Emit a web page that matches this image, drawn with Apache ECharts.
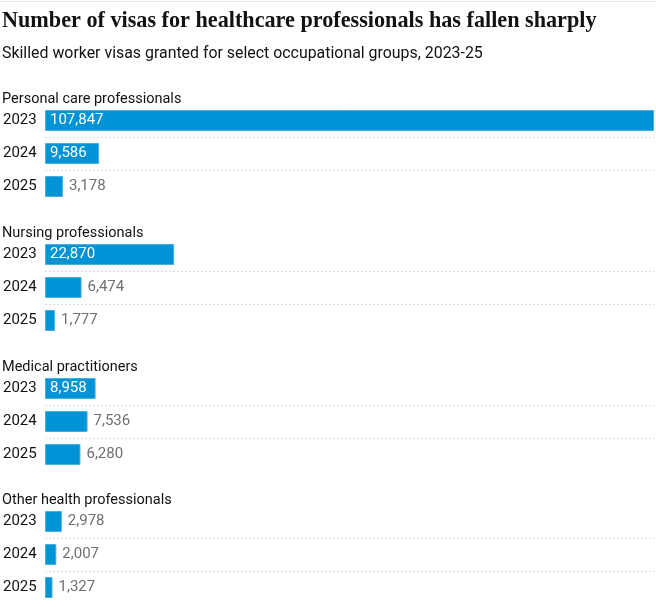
<!DOCTYPE html>
<html>
<head>
<meta charset="utf-8">
<script src="https://cdn.jsdelivr.net/npm/echarts@6/dist/echarts.min.js"></script>
<style>
html,body{margin:0;padding:0;background:#fff;}
#chart{width:656px;height:607px;}
</style>
</head>
<body>
<div id="chart"></div>
<script>
const titleText = 'Number of visas for healthcare professionals has fallen sharply';
const subtitleText = 'Skilled worker visas granted for select occupational groups, 2023-25';
const groups = ['Personal care professionals', 'Nursing professionals', 'Medical practitioners', 'Other health professionals'];
const years = ['2023', '2024', '2025'];
const personalCare = [107847, 9586, 3178];
const nursing = [22870, 6474, 1777];
const medical = [8958, 7536, 6280];
const otherHealth = [2978, 2007, 1327];
const seriesValues = [personalCare, nursing, medical, otherHealth];
const separatorsAfter = [0, 1]; // separator lines after these row indices

const maxValue = 107847;
const insideThreshold = 8000;
const gridTops = [104, 238, 372, 505];
const rowH = 33;
const left = 44, right = 2;
const FONT = 'Roboto';

const chart = echarts.init(document.getElementById('chart'), null, {renderer: 'canvas'});

const grids = [], xAxes = [], yAxes = [], series = [], titles = [];
titles.push({text: titleText, left: 2, top: 10, padding: 0,
  textStyle: {fontFamily: 'Liberation Serif', fontWeight: 'bold', fontSize: 22.2, color: '#121212'}});
titles.push({text: subtitleText, left: 2, top: 46, padding: 0,
  textStyle: {fontFamily: FONT, fontWeight: 'normal', fontSize: 15.9, color: '#121212'}});

groups.forEach((g, i) => {
  titles.push({text: g, left: 2, top: gridTops[i] - 12, padding: 0,
    textStyle: {fontFamily: FONT, fontWeight: 'normal', fontSize: 14.5, color: '#121212'}});
  grids.push({left: left, right: right, top: gridTops[i], height: rowH * years.length});
  xAxes.push({type: 'value', gridIndex: i, min: 0, max: maxValue, show: false});
  yAxes.push({type: 'category', gridIndex: i, data: years, inverse: true,
    axisLine: {show: false}, axisTick: {show: false}, splitLine: {show: false},
    axisLabel: {align: 'left', margin: 42, fontFamily: FONT, fontSize: 15, color: '#121212'}});
  series.push({
    type: 'bar', xAxisIndex: i, yAxisIndex: i, barWidth: 21,
    itemStyle: {color: '#0093d6', borderColor: '#47aee3', borderWidth: 1},
    data: seriesValues[i].map(v => {
      const inside = v >= insideThreshold;
      return {value: v, label: {
        show: true,
        position: inside ? 'insideLeft' : 'right',
        distance: inside ? 5 : 6,
        color: inside ? '#ffffff' : '#707070',
        fontFamily: FONT, fontSize: 15,
        formatter: p => p.value.toLocaleString('en-GB')
      }};
    })
  });
  series.push({
    type: 'custom', xAxisIndex: i, yAxisIndex: i, silent: true,
    data: separatorsAfter,
    renderItem: function (params, api) {
      const idx = api.value(0);
      const c = api.coord([0, idx]);
      const band = api.size([0, 1])[1];
      const y = Math.round(c[1] + band / 2) + 0.5;
      return {type: 'line', shape: {x1: params.coordSys.x, y1: y, x2: params.coordSys.x + params.coordSys.width, y2: y},
        style: {stroke: '#dcdcdc', lineWidth: 1, lineDash: [2, 2]}};
    },
    encode: {y: 0}
  });
});

chart.setOption({
  animation: false,
  title: titles,
  grid: grids,
  xAxis: xAxes,
  yAxis: yAxes,
  series: series,
  graphic: [{type: 'line', shape: {x1: 0, y1: 1.5, x2: 656, y2: 1.5}, style: {stroke: '#e6e6e6', lineWidth: 1}}]
});
</script>
</body>
</html>
